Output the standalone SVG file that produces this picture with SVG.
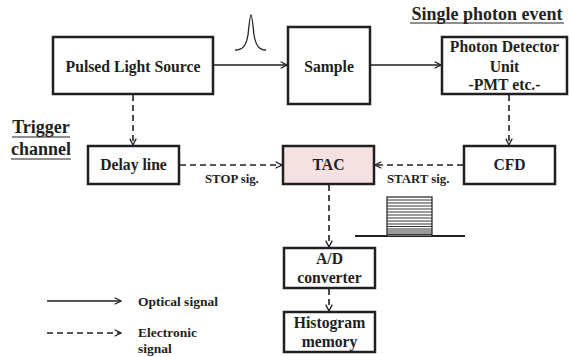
<svg xmlns="http://www.w3.org/2000/svg" width="570" height="357" viewBox="0 0 570 357">
<style>
text{font-family:'Liberation Serif','DejaVu Serif',serif;font-weight:bold;fill:#231f20}
.t{text-anchor:middle;font-size:15.7px}
.h{text-anchor:middle;font-size:18px}
.s{font-size:12.8px}
.l{font-size:13.5px}
.box{fill:#fff;stroke:#231f20;stroke-width:2.5}
.sol{stroke:#231f20;stroke-width:1.6;fill:none}
.dash{stroke:#231f20;stroke-width:1.6;fill:none;stroke-dasharray:6 4}
</style>
<defs>
<marker id="ah" viewBox="0 0 10 10" refX="9" refY="5" markerWidth="8" markerHeight="8" markerUnits="userSpaceOnUse" orient="auto">
<path d="M1,1 L9,5 L1,9" fill="none" stroke="#231f20" stroke-width="1.6"/>
</marker>
</defs>
<rect width="570" height="357" fill="#fff"/>
<g id="connectors">
<line class="sol" x1="213" y1="65" x2="287" y2="65" marker-end="url(#ah)"/>
<line class="sol" x1="370" y1="65" x2="441" y2="65" marker-end="url(#ah)"/>
<line class="dash" x1="133" y1="95" x2="133" y2="145" marker-end="url(#ah)"/>
<line class="dash" x1="509" y1="95" x2="509" y2="145" marker-end="url(#ah)"/>
<line class="dash" x1="180" y1="165" x2="282" y2="165" marker-end="url(#ah)"/>
<line class="dash" x1="463" y1="165" x2="375" y2="165" marker-end="url(#ah)"/>
<line class="dash" x1="329" y1="185" x2="329" y2="247" marker-end="url(#ah)"/>
<line class="dash" x1="329" y1="289" x2="329" y2="311" marker-end="url(#ah)"/>
<text class="s" x="205" y="183">STOP sig.</text>
<text class="s" x="387" y="183">START sig.</text>
</g>
<g id="pulse">
<path d="M235,50 C243,50 246,46 248,35 C249,25 250,15 251,15 C252,15 253,25 254,35 C256,46 259,50 266,50" fill="none" stroke="#231f20" stroke-width="1.3"/>
</g>
<g id="pulsed-light-source">
<rect class="box" x="53" y="37" width="160" height="57"/>
<text class="t" x="133" y="72">Pulsed Light Source</text>
</g>
<g id="sample">
<rect class="box" x="288" y="27" width="82" height="77"/>
<text class="t" x="329" y="72">Sample</text>
</g>
<g id="photon-detector">
<rect class="box" x="442" y="37" width="125" height="57"/>
<text class="t" x="504.5" y="52">Photon Detector</text>
<text class="t" x="504.5" y="72">Unit</text>
<text class="t" x="504.5" y="90">-PMT etc.-</text>
</g>
<g id="single-photon-label">
<text class="h" x="487" y="20">Single photon event</text>
<line x1="410" y1="23" x2="564" y2="23" stroke="#231f20" stroke-width="1.2"/>
</g>
<g id="trigger-label">
<text class="h" x="41" y="133">Trigger</text>
<line x1="12" y1="137" x2="70" y2="137" stroke="#231f20" stroke-width="1.2"/>
<text class="h" x="41" y="155">channel</text>
<line x1="11" y1="159" x2="71" y2="159" stroke="#231f20" stroke-width="1.2"/>
</g>
<g id="delay-line">
<rect class="box" x="88" y="146" width="91" height="38"/>
<text class="t" x="133.5" y="170">Delay line</text>
</g>
<g id="tac">
<rect class="box" x="283" y="146" width="91" height="38" style="fill:#f5e1e1"/>
<text class="t" x="328.5" y="170">TAC</text>
</g>
<g id="cfd">
<rect class="box" x="464" y="146" width="91" height="38"/>
<text class="t" x="509.5" y="170">CFD</text>
</g>
<g id="histogram-graphic">
<line x1="355" y1="236" x2="465" y2="236" stroke="#231f20" stroke-width="2"/>
<rect x="387" y="197" width="45" height="39" fill="#fff" stroke="#231f20" stroke-width="1.2"/>
<g stroke="#231f20" stroke-width="0.9">
<line x1="387" y1="200" x2="432" y2="200"/>
<line x1="387" y1="203" x2="432" y2="203"/>
<line x1="387" y1="206" x2="432" y2="206"/>
<line x1="387" y1="209" x2="432" y2="209"/>
<line x1="387" y1="212" x2="432" y2="212"/>
<line x1="387" y1="215" x2="432" y2="215"/>
<line x1="387" y1="218" x2="432" y2="218"/>
<line x1="387" y1="221" x2="432" y2="221"/>
<line x1="387" y1="224" x2="432" y2="224"/>
<line x1="387" y1="226.5" x2="432" y2="226.5"/>
<line x1="387" y1="229" x2="432" y2="229"/>
<line x1="387" y1="231" x2="432" y2="231"/>
<line x1="387" y1="233" x2="432" y2="233"/>
<line x1="387" y1="234.5" x2="432" y2="234.5"/>
</g>
</g>
<g id="ad-converter">
<rect class="box" x="284" y="248" width="91" height="40"/>
<text class="t" x="329.5" y="264">A/D</text>
<text class="t" x="329.5" y="283">converter</text>
</g>
<g id="histogram-memory">
<rect class="box" x="284" y="312" width="91" height="40"/>
<text class="t" x="329.5" y="328">Histogram</text>
<text class="t" x="329.5" y="347">memory</text>
</g>
<g id="legend">
<line class="sol" x1="47" y1="301" x2="121" y2="301" marker-end="url(#ah)"/>
<text class="l" x="138" y="306">Optical signal</text>
<line class="dash" x1="47" y1="333" x2="121" y2="333" marker-end="url(#ah)"/>
<text class="l" x="138" y="337">Electronic</text>
<text class="l" x="138" y="353">signal</text>
</g>
</svg>
